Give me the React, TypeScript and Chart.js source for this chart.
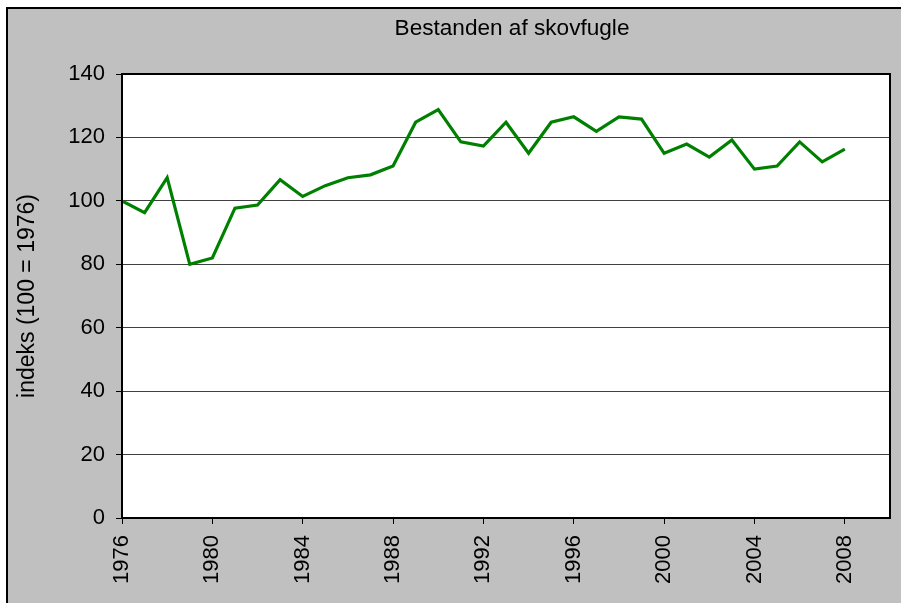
import React, { useEffect, useRef } from "react";
import { Chart, registerables } from "chart.js";

Chart.register(...registerables);

const TITLE = "Bestanden af skovfugle";
const Y_TITLE = "indeks (100 = 1976)";
const years = [
  1976, 1977, 1978, 1979, 1980, 1981, 1982, 1983, 1984, 1985, 1986, 1987,
  1988, 1989, 1990, 1991, 1992, 1993, 1994, 1995, 1996, 1997, 1998, 1999,
  2000, 2001, 2002, 2003, 2004, 2005, 2006, 2007, 2008,
];
const values = [
  100, 96.3, 107.3, 80, 82, 97.7, 98.7, 106.7, 101.4, 104.8, 107.3, 108.2,
  111, 124.8, 128.8, 118.6, 117.3, 124.8, 115, 124.8, 126.5, 121.9, 126.5, 125.8,
  115, 117.9, 113.8, 119.2, 110, 111, 118.6, 112.3, 116.3,
];
const X_MIN = 1976;
const X_MAX = 2010;
const X_STEP = 4;
const X_LAST_LABEL = 2008;
const Y_MIN = 0;
const Y_MAX = 140;
const Y_STEP = 20;

const FONT = "'Liberation Sans', Arial, sans-serif";

const framePlugin = {
  id: "frame",
  beforeDraw(chart: any) {
    const { ctx, width, height, chartArea } = chart;
    ctx.save();
    ctx.fillStyle = "#ffffff";
    ctx.fillRect(0, 0, width, height);
    ctx.fillStyle = "#c0c0c0";
    ctx.fillRect(6, 7, width - 6, height - 7);
    ctx.fillStyle = "#000000";
    ctx.fillRect(6, 7, 2, height - 7);
    ctx.fillRect(6, 7, width - 6, 2);
    ctx.fillStyle = "#ffffff";
    ctx.fillRect(
      chartArea.left,
      chartArea.top,
      chartArea.right - chartArea.left,
      chartArea.bottom - chartArea.top
    );
    ctx.restore();
  },
  afterDraw(chart: any) {
    const { ctx, chartArea } = chart;
    ctx.save();
    ctx.strokeStyle = "#000000";
    ctx.lineWidth = 2;
    ctx.strokeRect(
      chartArea.left,
      chartArea.top,
      chartArea.right - chartArea.left,
      chartArea.bottom - chartArea.top
    );
    ctx.fillStyle = "#000000";
    ctx.font = `22.6px ${FONT}`;
    ctx.textAlign = "center";
    ctx.textBaseline = "alphabetic";
    ctx.fillText(TITLE, 512, 35);
    ctx.restore();
  },
};

export default function App() {
  const ref = useRef<HTMLCanvasElement | null>(null);

  useEffect(() => {
    if (!ref.current) return;
    const data = years.map((y, i) => ({ x: y, y: values[i] }));
    const chart = new Chart(ref.current, {
      type: "line",
      data: {
        datasets: [
          {
            data,
            borderColor: "#008000",
            backgroundColor: "#008000",
            borderWidth: 3.2,
            pointRadius: 0,
            tension: 0,
          },
        ],
      },
      options: {
        animation: false,
        responsive: false,
        events: [],
        layout: { padding: { top: 74, right: 11, left: 0, bottom: 0 } },
        plugins: {
          legend: { display: false },
          title: { display: false },
          tooltip: { enabled: false },
        },
        scales: {
          x: {
            type: "linear",
            min: X_MIN,
            max: X_MAX,
            afterBuildTicks(scale: any) {
              scale.ticks = scale.ticks.filter(
                (t: any) => (t.value - X_MIN) % X_STEP === 0 && t.value <= X_LAST_LABEL
              );
            },
            afterFit(scale: any) {
              scale.height = 85;
              scale.paddingLeft = 0;
              scale.paddingRight = 0;
            },
            ticks: {
              stepSize: 1,
              autoSkip: false,
              minRotation: 90,
              maxRotation: 90,
              padding: 11,
              color: "#000000",
              font: { family: FONT, size: 22 },
              callback: (v: any) => String(v),
            },
            grid: {
              drawOnChartArea: false,
              drawTicks: true,
              tickLength: 6,
              tickColor: "#000000",
              lineWidth: 1,
            },
            border: { display: false },
          },
          y: {
            min: Y_MIN,
            max: Y_MAX,
            afterFit(scale: any) {
              scale.width = 122;
              scale.paddingTop = 0;
              scale.paddingBottom = 0;
            },
            ticks: {
              stepSize: Y_STEP,
              padding: 11,
              color: "#000000",
              font: { family: FONT, size: 22 },
            },
            title: {
              display: true,
              text: Y_TITLE,
              color: "#000000",
              font: { family: FONT, size: 23 },
              padding: { top: 14, bottom: 0 },
            },
            grid: {
              color: "#404040",
              lineWidth: 1,
              drawTicks: true,
              tickLength: 6,
              tickColor: "#000000",
            },
            border: { display: false },
          },
        },
      },
      plugins: [framePlugin],
    });
    return () => chart.destroy();
  }, []);

  return (
    <div style={{ position: "fixed", left: 0, top: 0, width: 901, height: 603 }}>
      <canvas ref={ref} width={901} height={603} style={{ width: 901, height: 603, display: "block" }} />
    </div>
  );
}
